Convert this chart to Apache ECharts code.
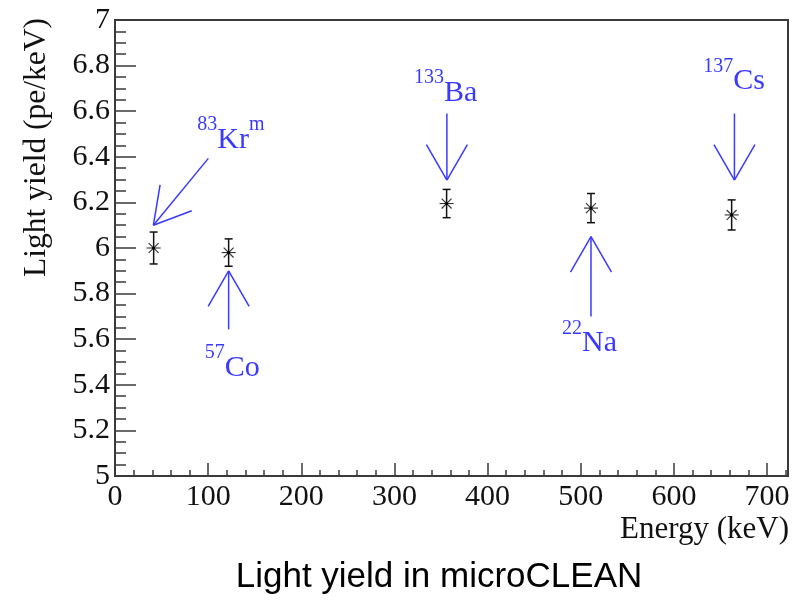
<!DOCTYPE html>
<html>
<head>
<meta charset="utf-8">
<script src="https://cdn.jsdelivr.net/npm/echarts@6/dist/echarts.min.js"></script>
<style>
  html, body { margin: 0; padding: 0; background: #fff; }
  #chart { width: 802px; height: 602px; }
</style>
</head>
<body>
<div id="chart"></div>
<script>
// Light yield measured with each calibration source
const energyKeV  = [41.5, 122, 356, 511, 662];
const lightYield = [6.00, 5.98, 6.195, 6.175, 6.145];
const yieldError = [0.07, 0.06, 0.062, 0.064, 0.066];

// Isotope annotations: mass number, element symbol, suffix
const isotopeMass   = ['83', '57', '133', '22', '137'];
const isotopeSymbol = ['Kr', 'Co', 'Ba', 'Na', 'Cs'];
const isotopeSuffix = ['m', '', '', '', ''];
// label centres (keV, pe/keV)
const labelX = [124.4, 126, 355, 509.5, 664.7];
const labelY = [6.496, 5.496, 6.701, 5.604, 6.752];
// arrows from the label towards the measured point (keV, pe/keV)
const arrowFromX = [100.2, 122, 356.3, 511, 665];
const arrowFromY = [6.393, 5.643, 6.59, 5.70, 6.59];
const arrowToX   = [41.2, 122, 356.3, 511, 665];
const arrowToY   = [6.10, 5.90, 6.298, 6.05, 6.298];

// Axis ranges
const xMin = 0, xMax = 722.5, xMajor = 100, xMinor = 20;
const yMin = 5, yMax = 7, yMajor = 0.2;

const SERIF = '"Liberation Serif", "Times New Roman", serif';
const INK = '#111';
const FRAME = '#3a3a3a';
const BLUE = '#3a3aff';

const chart = echarts.init(document.getElementById('chart'), null, { renderer: 'canvas' });

const pointData = energyKeV.map((x, i) => [x, lightYield[i], yieldError[i]]);
const arrowData = arrowFromX.map((x, i) => [x, arrowFromY[i], arrowToX[i], arrowToY[i]]);
const labelData = labelX.map((x, i) => [x, labelY[i], i]);

// asterisk marker with a capped vertical error bar
function renderPoint(params, api) {
  const x = api.value(0), y = api.value(1), e = api.value(2);
  const c = api.coord([x, y]);
  const hi = api.coord([x, y + e]);
  const lo = api.coord([x, y - e]);
  const cap = 4, r = 7, d = r * 0.7071;
  const bar = { stroke: INK, lineWidth: 1.5 };
  const star = { stroke: '#333', lineWidth: 1.1 };
  return {
    type: 'group',
    children: [
      { type: 'line', shape: { x1: c[0], y1: hi[1], x2: c[0], y2: lo[1] }, style: bar },
      { type: 'line', shape: { x1: c[0] - cap, y1: hi[1], x2: c[0] + cap, y2: hi[1] }, style: bar },
      { type: 'line', shape: { x1: c[0] - cap, y1: lo[1], x2: c[0] + cap, y2: lo[1] }, style: bar },
      { type: 'line', shape: { x1: c[0] - r, y1: c[1], x2: c[0] + r, y2: c[1] }, style: star },
      { type: 'line', shape: { x1: c[0] - d, y1: c[1] - d, x2: c[0] + d, y2: c[1] + d }, style: star },
      { type: 'line', shape: { x1: c[0] - d, y1: c[1] + d, x2: c[0] + d, y2: c[1] - d }, style: star },
      { type: 'circle', shape: { cx: c[0], cy: c[1], r: 1.6 }, style: { fill: '#000' } }
    ]
  };
}

// open-headed arrow pointing at a measurement
function renderArrow(params, api) {
  const p0 = api.coord([api.value(0), api.value(1)]);
  const p1 = api.coord([api.value(2), api.value(3)]);
  const ang = Math.atan2(p0[1] - p1[1], p0[0] - p1[0]);
  const head = 41, spread = Math.PI / 6;
  const a1 = ang + spread, a2 = ang - spread;
  const st = { stroke: BLUE, lineWidth: 1.5 };
  return {
    type: 'group',
    children: [
      { type: 'line', shape: { x1: p0[0], y1: p0[1], x2: p1[0], y2: p1[1] }, style: st },
      { type: 'line', shape: { x1: p1[0], y1: p1[1], x2: p1[0] + head * Math.cos(a1), y2: p1[1] + head * Math.sin(a1) }, style: st },
      { type: 'line', shape: { x1: p1[0], y1: p1[1], x2: p1[0] + head * Math.cos(a2), y2: p1[1] + head * Math.sin(a2) }, style: st }
    ]
  };
}

// isotope name with superscripted mass number
function renderLabel(params, api) {
  const i = api.value(2);
  const p = api.coord([api.value(0), api.value(1)]);
  let text = '{s|' + isotopeMass[i] + '}{m|' + isotopeSymbol[i] + '}';
  if (isotopeSuffix[i]) text += '{s|' + isotopeSuffix[i] + '}';
  return {
    type: 'text',
    x: p[0], y: p[1],
    style: {
      text: text,
      align: 'center',
      verticalAlign: 'middle',
      fill: BLUE,
      rich: {
        s: { fontFamily: SERIF, fontSize: 20, lineHeight: 20, verticalAlign: 'top', fill: BLUE },
        m: { fontFamily: SERIF, fontSize: 30, lineHeight: 40, verticalAlign: 'bottom', fill: BLUE }
      }
    }
  };
}

chart.setOption({
  animation: false,
  backgroundColor: '#fff',
  grid: {
    left: 115, top: 20, width: 673, height: 456,
    show: true, borderColor: FRAME, borderWidth: 2, backgroundColor: 'transparent'
  },
  xAxis: [
    {
      type: 'value', min: xMin, max: xMax, interval: xMajor, position: 'bottom',
      axisLine: { show: true, lineStyle: { color: FRAME, width: 2 } },
      axisTick: { show: true, inside: true, length: 13, lineStyle: { color: FRAME, width: 1.5 } },
      axisLabel: {
        show: true, margin: 6, color: INK, fontFamily: SERIF, fontSize: 30,
        showMaxLabel: false,
        formatter: v => (v % xMajor === 0 ? String(v) : '')
      },
      splitLine: { show: false }
    },
    {
      type: 'value', min: xMin, max: xMax, interval: xMinor, position: 'bottom',
      axisLine: { show: false },
      axisTick: { show: true, inside: true, length: 6, lineStyle: { color: FRAME, width: 1.5 } },
      axisLabel: { show: false },
      splitLine: { show: false }
    }
  ],
  yAxis: {
    type: 'value', min: yMin, max: yMax, interval: yMajor, position: 'left',
    axisLine: { show: true, lineStyle: { color: FRAME, width: 2 } },
    axisTick: { show: true, inside: true, length: 21, lineStyle: { color: FRAME, width: 1.5 } },
    minorTick: { show: true, splitNumber: 4, length: 11, lineStyle: { color: FRAME, width: 1.5 } },
    axisLabel: { show: true, margin: 5, color: INK, fontFamily: SERIF, fontSize: 30 },
    splitLine: { show: false }
  },
  series: [
    { type: 'custom', name: 'arrows', xAxisIndex: 0, renderItem: renderArrow, data: arrowData, silent: true },
    { type: 'custom', name: 'labels', xAxisIndex: 0, renderItem: renderLabel, data: labelData, silent: true },
    { type: 'custom', name: 'light yield', xAxisIndex: 0, renderItem: renderPoint, data: pointData, z: 5 }
  ],
  graphic: [
    {
      type: 'text', x: 36.5, y: 18, rotation: Math.PI / 2,
      style: { text: 'Light yield (pe/keV)', font: '31.5px ' + SERIF, fill: INK, align: 'right', verticalAlign: 'middle' }
    },
    {
      type: 'text', x: 789, y: 529.5,
      style: { text: 'Energy (keV)', font: '31px ' + SERIF, fill: INK, align: 'right', verticalAlign: 'middle' }
    },
    {
      type: 'text', x: 439, y: 577.5,
      style: { text: 'Light yield in microCLEAN', font: '35px "Liberation Sans", Arial, sans-serif', fill: '#000', align: 'center', verticalAlign: 'middle' }
    }
  ]
});
</script>
</body>
</html>
